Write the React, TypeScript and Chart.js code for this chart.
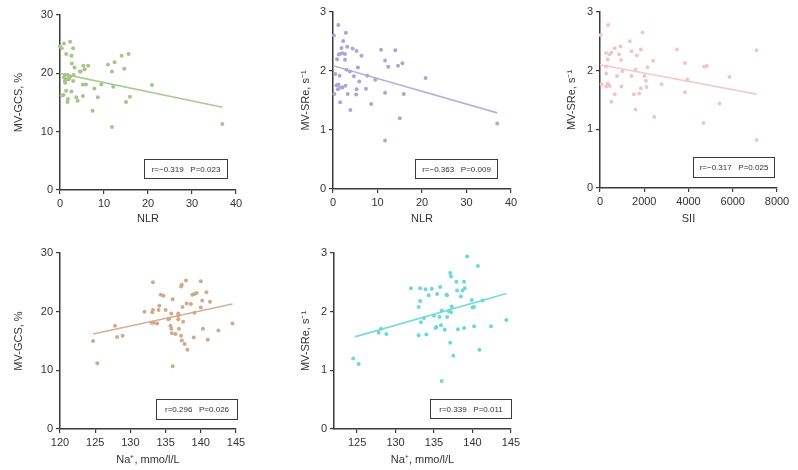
import React, { useEffect, useRef } from "react";
import { Chart, registerables } from "chart.js";
Chart.register(...registerables);

const FONT = "'Liberation Sans', Arial, Helvetica, sans-serif";

// ---------- data ----------
const nlrA = [0, 0.4, 0.9, 2.3, 3.0, 1.4, 2.6, 2.7, 3.3, 5.3, 6.4, 5.6, 4.5, 4.7, 1.1, 1.8, 2.3, 3.1, 1.3, 1.6, 1.1, 2.0, 3.0, 5.2, 5.9, 7.8, 9.4, 1.4, 2.6, 0.4, 0.8, 3.7, 5.2, 8.6, 1.8, 1.7, 4.0, 7.4, 10.9, 12.4, 11.8, 14.0, 15.6, 14.6, 12.1, 20.9, 15.9, 15.0, 11.8, 36.9, 1.2, 0.9];
const gcsA = [24.6, 24.3, 25.1, 25.4, 24.3, 23.3, 23.0, 21.7, 21.0, 21.3, 21.3, 20.7, 20.3, 20.3, 19.7, 19.7, 19.4, 19.7, 18.9, 19.0, 18.6, 19.0, 18.7, 18.1, 18.1, 17.4, 18.1, 17.0, 16.9, 16.2, 16.3, 15.9, 16.1, 15.9, 15.6, 15.1, 15.3, 13.6, 21.5, 21.9, 20.3, 23.0, 23.3, 20.8, 17.7, 18.0, 16.0, 15.1, 10.8, 11.3, 18.4, 19.3];
const fitAx = [0, 36.9];
const fitAy = [20.0, 14.2];

const nlrB = [0.2, 1.2, 2.9, 2.3, 3.2, 1.9, 4.4, 5.3, 1.5, 2.1, 2.7, 1.3, 0.9, 2.7, 6.4, 10.8, 14.0, 11.7, 12.4, 15.6, 14.6, 20.8, 5.6, 3.0, 3.8, 0.5, 4.7, 1.5, 7.7, 9.5, 5.9, 0.8, 1.2, 1.7, 2.1, 2.8, 1.1, 7.4, 5.3, 0.3, 3.3, 5.2, 11.7, 15.9, 1.6, 8.6, 3.9, 15.0, 11.7, 36.9];
const sreB = [2.60, 2.78, 2.65, 2.51, 2.41, 2.39, 2.38, 2.34, 2.29, 2.30, 2.29, 2.28, 2.20, 2.19, 2.26, 2.36, 2.35, 2.18, 2.07, 2.13, 2.09, 1.88, 2.06, 2.02, 1.99, 1.95, 1.91, 1.92, 1.92, 1.85, 1.82, 1.76, 1.77, 1.72, 1.72, 1.75, 1.69, 1.70, 1.69, 1.61, 1.61, 1.60, 1.63, 1.61, 1.47, 1.44, 1.34, 1.20, 0.82, 1.11];
const fitBx = [0, 36.9];
const fitBy = [2.09, 1.29];

const siiC = [30, 363, 1920, 1346, 922, 665, 1422, 1845, 272, 439, 514, 862, 348, 953, 1664, 2405, 3478, 3841, 4703, 4824, 7078, 272, 2148, 1603, 1013, 287, 1422, 771, 2011, 2072, 3947, 5853, 76, 348, 272, 439, 968, 2102, 1845, 2783, 665, 1528, 1770, 3841, 514, 5400, 1603, 2451, 4674, 7078];
const sreC = [2.61, 2.78, 2.65, 2.50, 2.41, 2.38, 2.33, 2.36, 2.30, 2.28, 2.31, 2.28, 2.19, 2.18, 2.26, 2.17, 2.36, 2.13, 2.07, 2.08, 2.35, 2.07, 2.06, 2.02, 1.99, 1.95, 1.91, 1.91, 1.91, 1.83, 1.85, 1.89, 1.77, 1.78, 1.73, 1.74, 1.73, 1.72, 1.70, 1.77, 1.60, 1.60, 1.61, 1.63, 1.47, 1.44, 1.34, 1.21, 1.11, 0.82];
const fitCx = [0, 7078];
const fitCy = [2.10, 1.60];

const naD = [124.7, 125.3, 127.8, 128.1, 128.9, 132.0, 133.1, 133.2, 133.2, 133.0, 133.3, 133.8, 134.0, 134.1, 134.3, 134.7, 135.0, 135.4, 135.5, 135.7, 135.8, 135.9, 136.0, 136.0, 135.8, 136.4, 136.8, 136.8, 136.8, 136.9, 137.2, 137.3, 137.2, 137.3, 137.4, 137.5, 137.7, 137.9, 138.0, 138.1, 138.6, 138.8, 139.1, 139.4, 139.1, 139.0, 140.0, 140.0, 140.2, 140.3, 140.8, 141.0, 141.3, 142.5, 144.5];
const gcsD = [15.0, 11.2, 17.6, 15.7, 15.9, 20.0, 19.9, 20.3, 25.0, 18.1, 18.1, 18.0, 20.3, 21.0, 22.9, 22.7, 20.3, 18.7, 18.8, 17.6, 17.1, 16.3, 22.1, 10.7, 19.7, 16.2, 19.3, 19.7, 18.7, 17.1, 15.9, 15.1, 24.3, 24.6, 20.8, 18.3, 14.5, 25.3, 21.4, 13.5, 21.3, 22.9, 23.0, 23.2, 19.8, 15.6, 25.2, 20.7, 21.9, 17.1, 23.3, 15.2, 21.7, 16.8, 18.0];
const fitDx = [124.7, 144.5];
const fitDy = [16.2, 21.3];

const naE = [124.5, 125.2, 127.8, 128.1, 128.8, 132.0, 133.0, 133.2, 133.2, 133.3, 133.0, 133.7, 133.9, 134.0, 134.3, 134.7, 135.0, 135.2, 135.3, 135.4, 135.7, 135.8, 135.9, 136.0, 136.0, 136.4, 136.6, 136.7, 136.7, 136.9, 137.1, 137.2, 137.1, 137.2, 137.3, 137.5, 137.9, 138.0, 138.1, 138.5, 138.7, 138.9, 139.0, 138.9, 139.3, 139.9, 140.0, 140.2, 140.2, 140.7, 140.9, 141.3, 142.4, 144.4];
const sreE = [1.20, 1.11, 1.64, 1.71, 1.62, 2.40, 2.08, 2.18, 2.40, 1.82, 1.60, 1.89, 2.38, 1.61, 2.28, 2.39, 1.93, 1.72, 1.74, 2.30, 1.91, 2.42, 1.77, 2.02, 0.82, 1.69, 2.29, 2.28, 1.91, 2.01, 2.66, 2.60, 1.47, 1.99, 2.09, 1.25, 2.51, 2.36, 1.70, 2.26, 2.36, 2.51, 2.40, 1.72, 2.94, 2.20, 2.07, 2.08, 1.75, 2.78, 1.35, 2.19, 1.75, 1.86];
const fitEx = [124.7, 144.4];
const fitEy = [1.57, 2.31];

const nlrTicks = [0, 10, 20, 30, 40];
const siiTicks = [0, 2000, 4000, 6000, 8000];
const naTicksD = [120, 125, 130, 135, 140, 145];
const naTicksE = [125, 130, 135, 140, 145];
const gcsTicks = [0, 10, 20, 30];
const sreTicks = [0, 1, 2, 3];

const statA = "r=\u22120.319   P=0.023";
const statB = "r=\u22120.363   P=0.009";
const statC = "r=\u22120.317   P=0.025";
const statD = "r=0.296   P=0.026";
const statE = "r=0.339   P=0.011";

const titleGCS = "MV-GCS, %";
const titleSRe = "MV-SRe, s\u207B\u00B9";
const titleNLR = "NLR";
const titleSII = "SII";
const titleNa = "Na\u207A, mmo/l/L";

// ---------- layout (page px) ----------
const YW = 60;
const XH = 40;
const PT = 10;
const PR = 24;

type Spec = {
  xs: number[]; ys: number[]; fx: number[]; fy: number[];
  xMin: number; xMax: number; xTicks: number[];
  yMin: number; yMax: number; yTicks: number[];
  xTitle: string; yTitle: string; stat: string;
  point: string; line: string;
  L: number; T: number; R: number; B: number;
  yTitleCx: number; xTitleCy: number;
  box: { x1: number; y1: number; x2: number; y2: number };
};

const panels: Spec[] = [
  { xs: nlrA, ys: gcsA, fx: fitAx, fy: fitAy, xMin: 0, xMax: 40, xTicks: nlrTicks, yMin: 0, yMax: 30, yTicks: gcsTicks,
    xTitle: titleNLR, yTitle: titleGCS, stat: statA, point: "#a7c48c", line: "#adc995",
    L: 60, T: 15, R: 236, B: 190, yTitleCx: 19, xTitleCy: 219, box: { x1: 144, y1: 159, x2: 227, y2: 178 } },
  { xs: nlrB, ys: sreB, fx: fitBx, fy: fitBy, xMin: 0, xMax: 40, xTicks: nlrTicks, yMin: 0, yMax: 3, yTicks: sreTicks,
    xTitle: titleNLR, yTitle: titleSRe, stat: statB, point: "#aba7d3", line: "#b6b2da",
    L: 333, T: 12, R: 511, B: 189, yTitleCx: 306, xTitleCy: 219, box: { x1: 415, y1: 159, x2: 497, y2: 178 } },
  { xs: siiC, ys: sreC, fx: fitCx, fy: fitCy, xMin: 0, xMax: 8000, xTicks: siiTicks, yMin: 0, yMax: 3, yTicks: sreTicks,
    xTitle: titleSII, yTitle: titleSRe, stat: statC, point: "#f2c6c7", line: "#f2cbcb",
    L: 600, T: 12, R: 777, B: 188, yTitleCx: 572, xTitleCy: 219, box: { x1: 693, y1: 157, x2: 774, y2: 177 } },
  { xs: naD, ys: gcsD, fx: fitDx, fy: fitDy, xMin: 120, xMax: 145, xTicks: naTicksD, yMin: 0, yMax: 30, yTicks: gcsTicks,
    xTitle: titleNa, yTitle: titleGCS, stat: statD, point: "#d0aa8d", line: "#d5b095",
    L: 60, T: 253, R: 236, B: 429, yTitleCx: 19, xTitleCy: 460, box: { x1: 156, y1: 399, x2: 237, y2: 419 } },
  { xs: naE, ys: sreE, fx: fitEx, fy: fitEy, xMin: 122, xMax: 145, xTicks: naTicksE, yMin: 0, yMax: 3, yTicks: sreTicks,
    xTitle: titleNa, yTitle: titleSRe, stat: statE, point: "#6ed8d8", line: "#78dbdb",
    L: 334, T: 253, R: 511, B: 429, yTitleCx: 306, xTitleCy: 460, box: { x1: 430, y1: 399, x2: 511, y2: 418 } },
];

const zip = (xs: number[], ys: number[]) => xs.map((x, i) => ({ x, y: ys[i] }));

const statsBox = {
  id: "statsBox",
  afterDraw(chart: any, _args: any, opts: any) {
    const { ctx, chartArea } = chart;
    const x2 = chartArea.right - opts.dr;
    const y2 = chartArea.bottom - opts.db;
    const x1 = x2 - opts.w;
    const y1 = y2 - opts.h;
    ctx.save();
    ctx.fillStyle = "#ffffff";
    ctx.fillRect(x1, y1, opts.w, opts.h);
    ctx.strokeStyle = "#3a3a3a";
    ctx.lineWidth = 1;
    ctx.strokeRect(Math.round(x1) + 0.5, Math.round(y1) + 0.5, Math.round(opts.w), Math.round(opts.h));
    ctx.fillStyle = "#333333";
    ctx.font = `8px ${FONT}`;
    ctx.textAlign = "center";
    ctx.textBaseline = "middle";
    ctx.fillText(opts.text, (x1 + x2) / 2 + 0.5, (y1 + y2) / 2 + 1);
    ctx.restore();
  },
};

function Panel({ s }: { s: Spec }) {
  const ref = useRef<HTMLCanvasElement>(null);
  const cw = s.R - s.L + YW + PR;
  const ch = s.B - s.T + PT + XH;
  const left = s.L - YW;
  const top = s.T - PT;
  useEffect(() => {
    if (!ref.current) return;
    const lh = 11 * 1.2;
    const yPad = s.yTitleCx - left - lh / 2;
    const xPad = top + ch - lh / 2 - s.xTitleCy;
    const axisCommon = (min: number, max: number, ticks: number[]) => ({
      type: "linear" as const,
      min,
      max,
      afterBuildTicks: (sc: any) => {
        sc.ticks = ticks.map((v) => ({ value: v }));
      },
      grid: { drawOnChartArea: false, drawTicks: true, tickLength: 4, color: "#3a3a3a", lineWidth: 1.2 },
      border: { display: true, color: "#3a3a3a", width: 1.5 },
      ticks: {
        font: { size: 11, family: FONT },
        color: "#333333",
        padding: 3,
        maxRotation: 0,
        autoSkip: false,
        callback: (v: any) => String(v),
      },
    });
    const chart = new Chart(ref.current, {
      type: "scatter",
      data: {
        datasets: [
          {
            data: zip(s.xs, s.ys),
            backgroundColor: s.point,
            borderWidth: 0,
            pointRadius: 2,
            pointHoverRadius: 2,
            clip: false,
            order: 1,
          } as any,
          {
            data: zip(s.fx, s.fy),
            showLine: true,
            borderColor: s.line,
            borderWidth: 1.6,
            pointRadius: 0,
            fill: false,
            order: 2,
          } as any,
        ],
      },
      options: {
        animation: false,
        responsive: false,
        maintainAspectRatio: false,
        layout: { padding: { left: 0, top: PT, right: PR, bottom: 0 } },
        plugins: {
          legend: { display: false },
          tooltip: { enabled: false },
          statsBox: {
            dr: s.R - s.box.x2,
            db: s.B - s.box.y2,
            w: s.box.x2 - s.box.x1,
            h: s.box.y2 - s.box.y1,
            text: s.stat,
          },
        } as any,
        scales: {
          x: {
            ...axisCommon(s.xMin, s.xMax, s.xTicks),
            position: "bottom",
            afterFit: (sc: any) => {
              sc.height = XH;
            },
            title: {
              display: true,
              text: s.xTitle,
              font: { size: 11, family: FONT },
              color: "#333333",
              padding: { top: 0, bottom: xPad },
            },
          },
          y: {
            ...axisCommon(s.yMin, s.yMax, s.yTicks),
            position: "left",
            afterFit: (sc: any) => {
              sc.width = YW;
            },
            title: {
              display: true,
              text: s.yTitle,
              font: { size: 11, family: FONT },
              color: "#333333",
              padding: { top: yPad, bottom: 0 },
            },
          },
        } as any,
      },
      plugins: [statsBox as any],
    });
    return () => chart.destroy();
  }, []);
  return (
    <canvas
      ref={ref}
      width={cw}
      height={ch}
      style={{ position: "absolute", left, top, width: cw, height: ch }}
    />
  );
}

export default function App() {
  return (
    <div
      style={{
        position: "absolute",
        left: 0,
        top: 0,
        width: 798,
        height: 470,
        overflow: "hidden",
        background: "#ffffff",
      }}
    >
      {panels.map((s, i) => (
        <Panel key={i} s={s} />
      ))}
    </div>
  );
}
